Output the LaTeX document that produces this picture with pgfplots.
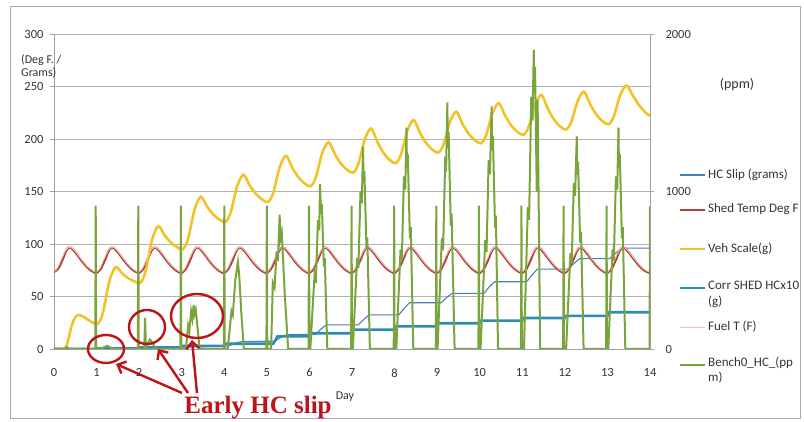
\documentclass[border=0pt]{standalone}
\usepackage{pgfplots}
\pgfplotsset{compat=1.18}
\usepackage{fontspec}
\setmainfont{Carlito}
\newfontfamily\annotfont{Liberation Serif}
\usetikzlibrary{arrows.meta}
\definecolor{gridgray}{RGB}{178,178,178}
\definecolor{axisgray}{RGB}{160,160,160}
\definecolor{framegray}{RGB}{170,170,170}
\definecolor{hcslip}{RGB}{74,126,187}
\definecolor{shed}{RGB}{172,66,60}
\definecolor{veh}{RGB}{242,195,40}
\definecolor{corr}{RGB}{45,140,180}
\definecolor{fuel}{RGB}{246,190,170}
\definecolor{bench}{RGB}{122,165,60}
\definecolor{annotred}{RGB}{190,20,25}
\tikzset{
  sHC/.style={draw=hcslip, line width=1.1pt},
  sShed/.style={draw=shed, line width=2.2pt},
  sVeh/.style={draw=veh, line width=2.6pt},
  sCorr/.style={draw=corr, line width=2.6pt},
  sFuel/.style={draw=fuel, line width=0.9pt},
  sBench/.style={draw=bench, line width=2pt},
}
\begin{document}
\begin{tikzpicture}
\useasboundingbox (-54pt,-73pt) rectangle (750pt,349pt);
\draw[framegray, line width=1pt] (-43pt,-70pt) rectangle (746pt,342pt);
\begin{axis}[
  at={(0pt,0pt)}, anchor=south west,
  scale only axis, width=596pt, height=315pt,
  xmin=0, xmax=14, ymin=0, ymax=300,
  axis x line*=bottom, axis y line*=left,
  xtick={0,1,...,14}, ytick={0,50,...,300},
  ymajorgrids,
  major grid style={draw=gridgray, line width=0.9pt},
  axis line style={draw=axisgray, line width=0.9pt, -},
  xtick style={draw=none},
  ytick style={draw=axisgray, line width=0.9pt},
  tick align=outside, major tick length=4pt,
  ticklabel style={font=\fontsize{12.5}{15}\selectfont, text=black!80},
  /pgf/number format/assume math mode=true,
  yticklabel style={xshift=-3pt},
  xticklabel style={yshift=-12pt},
]
% HC Slip (grams)
\addplot[sHC, sharp plot] coordinates {
(0,0)(1.3,0.5)(2.3,1)(3.3,2)(4.0,2.5)(4.1,3)(4.25,5.5)(4.4,7)(5.2,7.5)(5.3,10.5)(5.45,13.5)(6.15,14)(6.27,19)(6.4,23)(7.15,23)(7.27,28)(7.4,32.5)(8.1,32.5)(8.22,38.5)(8.35,44)(9.1,44)(9.22,49)(9.35,53)(10.1,53)(10.22,59)(10.35,64)(11.1,64)(11.22,70)(11.35,76)(12.05,76)(12.2,81)(12.35,86)(13.05,86)(13.2,91.5)(13.33,96)(14,96)
};
% Shed Temp Deg F
\addplot[sShed, smooth, tension=0.5] coordinates {
(0,73.5)(0.1,76.5)(0.2,85)(0.28,93)(0.35,96.5)(0.43,95.3)(0.53,90.5)(0.63,85)(0.73,80)(0.83,76)(0.92,73.5)
(1,72.5)(1.1,76.5)(1.2,85)(1.28,93)(1.35,96.5)(1.43,95.3)(1.53,90.5)(1.63,85)(1.73,80)(1.83,76)(1.92,73.5)
(2,72.5)(2.1,76.5)(2.2,85)(2.28,93)(2.35,96.5)(2.43,95.3)(2.53,90.5)(2.63,85)(2.73,80)(2.83,76)(2.92,73.5)
(3,72.5)(3.1,76.5)(3.2,85)(3.28,93)(3.35,96.5)(3.43,95.3)(3.53,90.5)(3.63,85)(3.73,80)(3.83,76)(3.92,73.5)
(4,72.5)(4.1,76.5)(4.2,85)(4.28,93)(4.35,96.5)(4.43,95.3)(4.53,90.5)(4.63,85)(4.73,80)(4.83,76)(4.92,73.5)
(5,72.5)(5.1,76.5)(5.2,85)(5.28,93)(5.35,96.5)(5.43,95.3)(5.53,90.5)(5.63,85)(5.73,80)(5.83,76)(5.92,73.5)
(6,72.5)(6.1,76.5)(6.2,85)(6.28,93)(6.35,96.5)(6.43,95.3)(6.53,90.5)(6.63,85)(6.73,80)(6.83,76)(6.92,73.5)
(7,72.5)(7.1,76.5)(7.2,85)(7.28,93)(7.35,96.5)(7.43,95.3)(7.53,90.5)(7.63,85)(7.73,80)(7.83,76)(7.92,73.5)
(8,72.5)(8.1,76.5)(8.2,85)(8.28,93)(8.35,96.5)(8.43,95.3)(8.53,90.5)(8.63,85)(8.73,80)(8.83,76)(8.92,73.5)
(9,72.5)(9.1,76.5)(9.2,85)(9.28,93)(9.35,96.5)(9.43,95.3)(9.53,90.5)(9.63,85)(9.73,80)(9.83,76)(9.92,73.5)
(10,72.5)(10.1,76.5)(10.2,85)(10.28,93)(10.35,96.5)(10.43,95.3)(10.53,90.5)(10.63,85)(10.73,80)(10.83,76)(10.92,73.5)
(11,72.5)(11.1,76.5)(11.2,85)(11.28,93)(11.35,96.5)(11.43,95.3)(11.53,90.5)(11.63,85)(11.73,80)(11.83,76)(11.92,73.5)
(12,72.5)(12.1,76.5)(12.2,85)(12.28,93)(12.35,96.5)(12.43,95.3)(12.53,90.5)(12.63,85)(12.73,80)(12.83,76)(12.92,73.5)
(13,72.5)(13.1,76.5)(13.2,85)(13.28,93)(13.35,96.5)(13.43,95.3)(13.53,90.5)(13.63,85)(13.73,80)(13.83,76)(13.92,73.5)
(14,72.5)
};
% Veh Scale(g)
\addplot[sVeh, smooth, tension=0.5] coordinates {
(0,0)(0.25,0.5)(0.33,8)(0.4,20)(0.48,29)(0.57,32.5)(0.7,30.5)(0.85,26.5)
(1.03,24)(1.15,34.8)(1.3,64.5)(1.45,78)(1.6,72)(1.75,67.2)(1.9,64.2)
(2.03,63)(2.15,73.8)(2.3,103.5)(2.45,117)(2.6,108.2)(2.75,101.2)(2.9,96.8)
(3.03,95)(3.15,105)(3.3,132.5)(3.45,145)(3.6,135.4)(3.75,127.7)(3.9,122.9)
(4.03,121)(4.15,130)(4.3,154.8)(4.45,166)(4.6,155.6)(4.75,147.3)(4.9,142.1)
(5.03,140)(5.15,148.8)(5.3,173)(5.45,184)(5.6,172.4)(5.75,163.1)(5.9,157.3)
(6.03,155)(6.15,163.4)(6.3,186.5)(6.45,197)(6.6,185.4)(6.75,176.1)(6.9,170.3)
(7.03,168)(7.15,176.4)(7.3,199.5)(7.45,210)(7.6,196.8)(7.75,186.2)(7.9,179.6)
(8.03,177)(8.15,185.2)(8.3,207.8)(8.45,218)(8.6,205.6)(8.75,195.7)(8.9,189.5)
(9.03,187)(9.15,194.8)(9.3,216.3)(9.45,226)(9.6,214)(9.75,204.4)(9.9,198.4)
(10.03,196)(10.15,203.6)(10.3,224.5)(10.45,234)(10.6,222)(10.75,212.4)(10.9,206.4)
(11.03,204)(11.15,211.6)(11.3,232.5)(11.45,242)(11.6,228.8)(11.75,218.2)(11.9,211.6)
(12.03,209)(12.15,216.2)(12.3,236)(12.45,245)(12.6,232.6)(12.75,222.7)(12.9,216.5)
(13.03,214)(13.15,221.4)(13.3,241.8)(13.45,251)(13.6,241)(13.75,232)(13.9,225)(14,222)
};
% Corr SHED HCx10 (g)
\addplot[sCorr, sharp plot] coordinates {
(0,0)(1,0)(1.01,0.5)(2,0.5)(2.01,1.5)(3,1.5)(3.01,3)(4,3)(4.01,5)(5.15,5)(5.25,12)(6,12)(6.01,15)(7,15)(7.01,18.5)(8,18.5)(8.01,21.5)(9,21.5)(9.01,24.5)(10,24.5)(10.01,27)(11,27)(11.01,29.5)(12,29.5)(12.01,31.5)(13,31.5)(13.01,35)(14,35)
};
% Fuel T (F)
\addplot[sFuel, smooth, tension=0.5] coordinates {
(0,74)(0.08,77)(0.18,86)(0.27,93.5)(0.34,96.5)(0.43,96)(0.53,91.5)(0.63,86)(0.73,81)(0.83,77)(0.92,74.3)
(1,73.5)(1.08,77)(1.18,86)(1.27,93.5)(1.34,96.5)(1.43,96)(1.53,91.5)(1.63,86)(1.73,81)(1.83,77)(1.92,74.3)
(2,73.5)(2.08,77)(2.18,86)(2.27,93.5)(2.34,96.5)(2.43,96)(2.53,91.5)(2.63,86)(2.73,81)(2.83,77)(2.92,74.3)
(3,73.5)(3.08,77)(3.18,86)(3.27,93.5)(3.34,96.5)(3.43,96)(3.53,91.5)(3.63,86)(3.73,81)(3.83,77)(3.92,74.3)
(4,73.5)(4.08,77)(4.18,86)(4.27,93.5)(4.34,96.5)(4.43,96)(4.53,91.5)(4.63,86)(4.73,81)(4.83,77)(4.92,74.3)
(5,73.5)(5.08,77)(5.18,86)(5.27,93.5)(5.34,96.5)(5.43,96)(5.53,91.5)(5.63,86)(5.73,81)(5.83,77)(5.92,74.3)
(6,73.5)(6.08,77)(6.18,86)(6.27,93.5)(6.34,96.5)(6.43,96)(6.53,91.5)(6.63,86)(6.73,81)(6.83,77)(6.92,74.3)
(7,73.5)(7.08,77)(7.18,86)(7.27,93.5)(7.34,96.5)(7.43,96)(7.53,91.5)(7.63,86)(7.73,81)(7.83,77)(7.92,74.3)
(8,73.5)(8.08,77)(8.18,86)(8.27,93.5)(8.34,96.5)(8.43,96)(8.53,91.5)(8.63,86)(8.73,81)(8.83,77)(8.92,74.3)
(9,73.5)(9.08,77)(9.18,86)(9.27,93.5)(9.34,96.5)(9.43,96)(9.53,91.5)(9.63,86)(9.73,81)(9.83,77)(9.92,74.3)
(10,73.5)(10.08,77)(10.18,86)(10.27,93.5)(10.34,96.5)(10.43,96)(10.53,91.5)(10.63,86)(10.73,81)(10.83,77)(10.92,74.3)
(11,73.5)(11.08,77)(11.18,86)(11.27,93.5)(11.34,96.5)(11.43,96)(11.53,91.5)(11.63,86)(11.73,81)(11.83,77)(11.92,74.3)
(12,73.5)(12.08,77)(12.18,86)(12.27,93.5)(12.34,96.5)(12.43,96)(12.53,91.5)(12.63,86)(12.73,81)(12.83,77)(12.92,74.3)
(13,73.5)(13.08,77)(13.18,86)(13.27,93.5)(13.34,96.5)(13.43,96)(13.53,91.5)(13.63,86)(13.73,81)(13.83,77)(13.92,74.3)
(14,73.5)
};
\end{axis}
\begin{axis}[
  at={(0pt,0pt)}, anchor=south west,
  scale only axis, width=596pt, height=315pt,
  xmin=0, xmax=14, ymin=0, ymax=2000,
  axis x line=none, axis y line*=right,
  ytick={0,1000,2000},
  axis line style={draw=axisgray, line width=0.9pt, -},
  ytick style={draw=axisgray, line width=0.9pt},
  tick align=outside, major tick length=4pt,
  ticklabel style={font=\fontsize{12.5}{15}\selectfont, text=black!80},
  /pgf/number format/assume math mode=true,
  /pgf/number format/1000 sep={},
  yticklabel style={xshift=8pt},
]
% Bench0_HC_(ppm)
\addplot[sBench, sharp plot] coordinates {
(0,0)(0.25,0)(0.3,12)(0.36,0)
(0.97,0)(0.98,910)(0.99,0)(1.15,8)(1.25,20)(1.35,6)(1.45,0)
(1.97,0)(1.98,910)(1.99,0)(2.12,0)(2.14,197)(2.16,0)(2.2,30)(2.25,60)(2.3,45)(2.36,15)(2.42,0)
(2.97,0)(2.98,910)(2.99,0)(3.1,0)(3.15,150)(3.18,110)(3.22,240)(3.25,190)(3.28,280)(3.3,220)(3.33,250)(3.37,140)(3.42,0)
(3.99,0)(4.0,910)(4.01,0)(4.08,0)(4.17,240)(4.2,215)(4.26,440)(4.32,553)(4.35,470)(4.4,230)(4.46,0)
(4.99,0)(5.0,910)(5.01,0)(5.1,0)(5.14,420)(5.18,390)(5.23,620)(5.26,560)(5.3,853)(5.32,700)(5.35,740)(5.42,350)(5.5,0)
(5.98,0)(5.99,910)(6.0,0)(6.02,0)(6.12,471)(6.15,419)(6.2,817)(6.23,754)(6.25,1047)(6.27,859)(6.29,921)(6.34,524)(6.36,576)(6.42,0)
(6.98,0)(6.99,910)(7.0,0)(7.02,0)(7.12,578)(7.15,514)(7.2,1002)(7.23,925)(7.26,1285)(7.27,1054)(7.29,1131)(7.34,643)(7.36,707)(7.42,0)
(7.98,0)(7.99,910)(8.0,0)(8.04,0)(8.14,632)(8.17,562)(8.22,1096)(8.25,1012)(8.28,1405)(8.29,1152)(8.31,1236)(8.36,703)(8.38,773)(8.44,0)
(8.97,0)(8.98,910)(8.99,0)(9.01,0)(9.11,704)(9.14,626)(9.19,1221)(9.21,1127)(9.24,1565)(9.25,1283)(9.27,1377)(9.32,783)(9.34,861)(9.41,0)
(9.97,0)(9.98,910)(9.99,0)(10.02,0)(10.13,693)(10.16,616)(10.21,1201)(10.24,1109)(10.28,1540)(10.29,1263)(10.31,1355)(10.36,770)(10.38,847)(10.43,0)
(10.97,0)(10.98,910)(10.99,0)(11.04,0)(11.13,900)(11.16,820)(11.21,1600)(11.24,1450)(11.27,1900)(11.28,1700)(11.3,1790)(11.34,1000)(11.36,1580)(11.42,0)
(11.96,0)(11.97,910)(11.98,0)(12.03,0)(12.13,608)(12.16,540)(12.21,1053)(12.24,972)(12.28,1350)(12.29,1107)(12.31,1188)(12.36,675)(12.38,743)(12.44,0)
(12.97,0)(12.98,910)(12.99,0)(13.02,0)(13.12,632)(13.15,562)(13.2,1096)(13.23,1012)(13.26,1405)(13.27,1152)(13.29,1236)(13.34,703)(13.36,773)(13.42,0)
(13.99,0)(14,905)
};
\end{axis}
% axis titles
\begin{scope}[font=\fontsize{12}{14.5}\selectfont, text=black!80]
\node[anchor=west, inner sep=0pt] at (-33pt,289pt) {(Deg F. /};
\node[anchor=west, inner sep=0pt] at (-33pt,276pt) {Grams)};
\node[inner sep=0pt, font=\fontsize{14}{16}\selectfont] at (683pt,264pt) {(ppm)};
\node[inner sep=0pt] at (291pt,-48pt) {Day};
\end{scope}
% legend
\begin{scope}[font=\fontsize{13}{15.6}\selectfont, text=black!80]
\draw[sHC] (626pt,174pt) -- (651pt,174pt);
\node[anchor=west, inner sep=0pt] at (654pt,174pt) {HC Slip (grams)};
\draw[sShed] (626pt,139pt) -- (651pt,139pt);
\node[anchor=west, inner sep=0pt] at (654pt,140pt) {Shed Temp Deg F};
\draw[sVeh] (626pt,100pt) -- (651pt,100pt);
\node[anchor=west, inner sep=0pt] at (654pt,100pt) {Veh Scale(g)};
\draw[sCorr] (626pt,61pt) -- (651pt,61pt);
\node[anchor=west, inner sep=0pt] at (654pt,64pt) {Corr SHED HCx10};
\node[anchor=west, inner sep=0pt] at (654pt,47pt) {(g)};
\draw[sFuel] (626pt,22pt) -- (651pt,22pt);
\node[anchor=west, inner sep=0pt] at (654pt,22pt) {Fuel T (F)};
\draw[draw=bench, line width=1.5pt] (626pt,-16pt) -- (651pt,-16pt);
\node[anchor=west, inner sep=0pt] at (654pt,-14pt) {Bench0\_HC\_(pp};
\node[anchor=west, inner sep=0pt] at (654pt,-29pt) {m)};
\end{scope}
% annotation
\begin{scope}[draw=annotred, line width=2.4pt]
\draw (52pt,0pt) ellipse [x radius=18pt, y radius=14pt];
\draw (93pt,22pt) ellipse [x radius=18pt, y radius=17pt];
\draw (143pt,33pt) ellipse [x radius=26pt, y radius=22pt];
\draw[-{Straight Barb[length=7pt,width=13pt]}] (128pt,-44pt) -- (62pt,-15pt);
\draw[-{Straight Barb[length=7pt,width=13pt]}] (134pt,-44pt) -- (104pt,0pt);
\draw[-{Straight Barb[length=7pt,width=13pt]}] (143pt,-44pt) -- (138pt,9pt);
\end{scope}
\node[anchor=base, inner sep=0pt, text=annotred, font=\annotfont\bfseries\fontsize{25}{30}\selectfont] at (204pt,-65pt) {Early HC slip};
\end{tikzpicture}
\end{document}
